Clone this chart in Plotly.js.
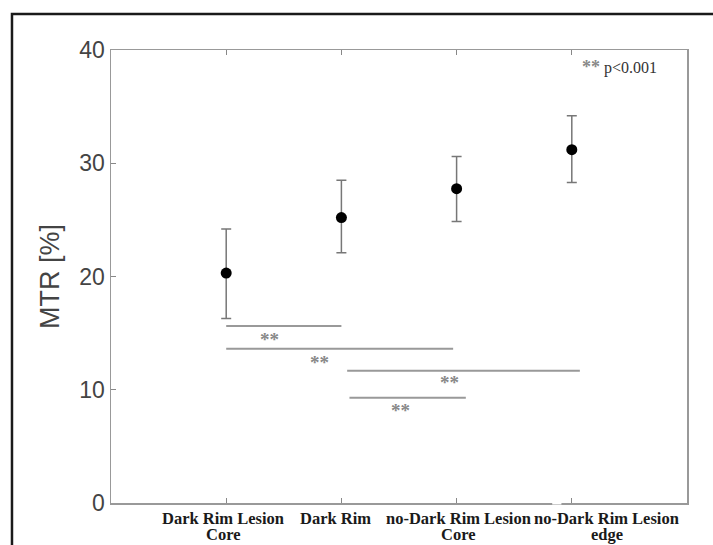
<!DOCTYPE html>
<html>
<head>
<meta charset="utf-8">
<script src="https://cdn.plot.ly/plotly-3.0.1.min.js"></script>
<style>html,body{margin:0;padding:0;background:#fff;}#chart{width:713px;height:545px;}</style>
</head>
<body>
<div id="chart"></div>
<script>
// ---- data ----
const categories = ["Dark Rim Lesion<br>Core", "Dark Rim", "no-Dark Rim Lesion<br>Core", "no-Dark Rim Lesion<br>edge"];
const catPos = [1, 2, 3, 4];
const mtrMean = [20.3, 25.2, 27.75, 31.2];
const errPlus = [3.9, 3.3, 2.85, 3.0];
const errMinus = [4.0, 3.1, 2.9, 2.9];
const yTicks = [0, 10, 20, 30, 40];
// significance brackets: [xStart, xEnd, yLevel], star position [x, y]
const sigStartX = [1.0, 1.0, 2.05, 2.07];
const sigEndX = [2.0, 2.97, 4.07, 3.08];
const sigLevel = [15.63, 13.62, 11.68, 9.3];
const starX = [1.38, 1.81, 2.94, 2.51];
const starY = [14.83, 12.8, 10.95, 8.56];
const starLabel = "**";
const pNote = "p<0.001";

// ---- traces ----
const traces = [{
  type: 'scatter', mode: 'markers',
  x: catPos, y: mtrMean,
  marker: {color: '#000', size: 11},
  error_y: {type: 'data', symmetric: false, array: errPlus, arrayminus: errMinus,
            color: '#777', thickness: 1.5, width: 5},
  showlegend: false, hoverinfo: 'skip'
}];

const shapes = [];
for (let i = 0; i < sigLevel.length; i++) {
  shapes.push({type: 'line', xref: 'x', yref: 'y', x0: sigStartX[i], x1: sigEndX[i],
    y0: sigLevel[i], y1: sigLevel[i], line: {color: '#999', width: 2}});
}
// gap in bottom axis line
shapes.push({type: 'line', xref: 'x', yref: 'paper', x0: 3.83, x1: 3.91, y0: 0, y1: 0,
  line: {color: '#fff', width: 3}});
// outer frame
shapes.push({type: 'rect', xref: 'paper', yref: 'paper', x0: -0.1719, x1: 1.08, y0: -0.15, y1: 1.0795,
  line: {color: '#1a1a1a', width: 2.5}, layer: 'above'});

const annotations = [];
const labelShift = [-3, -6, 2, 35];
for (let i = 0; i < categories.length; i++) {
  const lines = categories[i].split('<br>');
  lines.forEach((ln, k) => {
    annotations.push({xref: 'x', yref: 'paper', x: catPos[i], y: 0, yanchor: 'top', xanchor: 'center',
      xshift: labelShift[i], yshift: -4 - 16 * k, text: '<b>' + ln + '</b>', showarrow: false,
      font: {family: 'Liberation Serif, Times New Roman, serif', size: 16.5, color: '#1a1a1a'}});
  });
}
for (let i = 0; i < starX.length; i++) {
  annotations.push({xref: 'x', yref: 'y', x: starX[i], y: starY[i], text: '<b>' + starLabel + '</b>',
    showarrow: false, yshift: -4, font: {family: 'Liberation Serif, serif', size: 19, color: '#888'}});
}
annotations.push({xref: 'paper', yref: 'paper', x: 0.814, y: 0.962, xanchor: 'left', yanchor: 'middle',
  text: '<span style="color:#888;font-size:18px"><b>' + starLabel + '</b></span> ' + pNote, showarrow: false,
  font: {family: 'Liberation Serif, serif', size: 16, color: '#333'}});

const layout = {
  width: 713, height: 545,
  margin: {l: 111, r: 26, t: 50, b: 42},
  paper_bgcolor: '#fff', plot_bgcolor: '#fff',
  showlegend: false,
  xaxis: {range: [0, 5], tickvals: catPos, showticklabels: false, ticks: 'inside', ticklen: 5,
    tickcolor: '#888', showline: true, linecolor: '#999', linewidth: 1.5, mirror: 'ticks',
    showgrid: false, zeroline: false, fixedrange: true},
  yaxis: {range: [0, 40], tickvals: yTicks, ticks: 'inside', ticklen: 5, tickcolor: '#888',
    showline: true, linecolor: '#999', linewidth: 1.5, mirror: true, showgrid: false, zeroline: false,
    tickfont: {family: 'Liberation Sans, Arial, sans-serif', size: 23, color: '#444'},
    title: {text: 'MTR [%]', font: {family: 'Liberation Sans, Arial, sans-serif', size: 27, color: '#444'}, standoff: 12},
    fixedrange: true},
  shapes: shapes,
  annotations: annotations
};

Plotly.newPlot('chart', traces, layout, {displayModeBar: false, staticPlot: true});
</script>
</body>
</html>
